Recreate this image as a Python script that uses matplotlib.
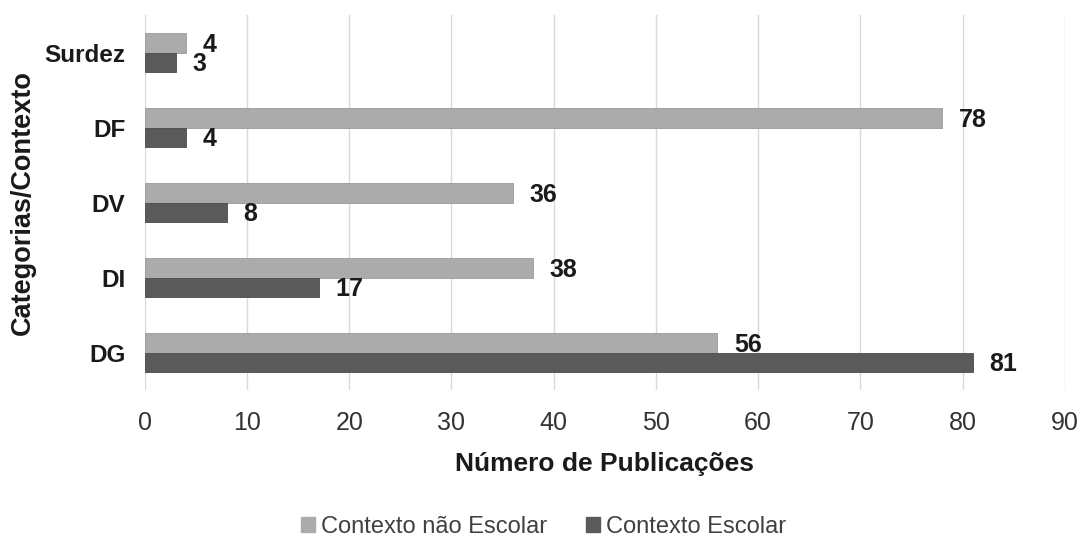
import numpy as np
import matplotlib.pyplot as plt
from matplotlib.patches import Patch

plt.rcParams['font.family'] = ['Liberation Sans', 'DejaVu Sans']

categorias = ['DG', 'DI', 'DV', 'DF', 'Surdez']
nao_escolar = [56, 38, 36, 78, 4]
escolar = [81, 17, 8, 4, 3]
series_names = ['Contexto não Escolar', 'Contexto Escolar']
xticks = [0, 10, 20, 30, 40, 50, 60, 70, 80, 90]

c_light = '#ababab'
c_dark = '#5a5a5a'

fig = plt.figure(figsize=(10.81, 5.38), dpi=100)
ax = fig.add_axes([0.134, 0.275, 0.851, 0.697])

y = np.arange(len(categorias))
h = 0.26
b1 = ax.barh(y + h / 2, nao_escolar, height=h, color=c_light, edgecolor='#9a9a9a', linewidth=0.6, zorder=3)
b2 = ax.barh(y - h / 2, escolar, height=h, color=c_dark, edgecolor='#4a4a4a', linewidth=0.6, zorder=3)

for bars, vals in ((b1, nao_escolar), (b2, escolar)):
    for bar, v in zip(bars, vals):
        ax.annotate(str(v), (v, bar.get_y() + bar.get_height() / 2),
                    xytext=(12, -1.5), textcoords='offset points',
                    va='center', ha='left', fontsize=18, fontweight='bold', color='#1a1a1a')

ax.set_xlim(0, 90)
ax.set_ylim(-0.5, 4.5)
ax.set_xticks(xticks)
ax.set_yticks(y)
ax.set_yticklabels(categorias, fontsize=17.5, fontweight='bold', color='#1a1a1a')
ax.tick_params(axis='x', labelsize=18, colors='#333333', length=0, pad=15)
ax.tick_params(axis='y', length=0, pad=14)
ax.grid(axis='x', color='#d9d9d9', linewidth=1, zorder=0)
for s in ax.spines.values():
    s.set_visible(False)

ax.set_xlabel('Número de Publicações', fontsize=19, fontweight='bold', color='#1a1a1a', labelpad=12)
ax.set_ylabel('Categorias/Contexto', fontsize=19.5, fontweight='bold', color='#1a1a1a', labelpad=6)

handles = [Patch(color=c_light), Patch(color=c_dark)]
fig.legend(handles, series_names, loc='center', bbox_to_anchor=(0.503, 0.02), ncol=2,
           frameon=False, fontsize=17, handlelength=0.6, handleheight=0.6,
           handletextpad=0.25, columnspacing=1.65, labelcolor='#404040')

fig.savefig('out.png', dpi=100)
